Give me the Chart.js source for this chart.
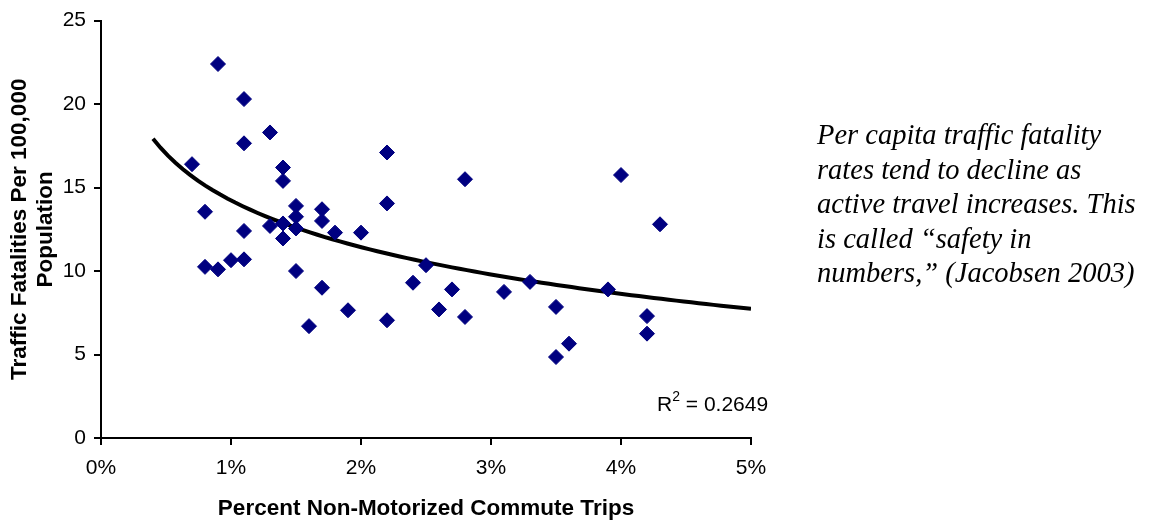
<!DOCTYPE html>
<html>
<head>
<meta charset="utf-8">
<script src="https://cdn.jsdelivr.net/npm/chart.js@4/dist/chart.umd.min.js"></script>
<style>
  html, body { margin: 0; padding: 0; background: #fff; }
  #wrap { width: 1154px; height: 523px; }
</style>
</head>
<body>
<div id="wrap"><canvas id="scatter" width="1154" height="523"></canvas></div>
<script>
// percent of commute trips by walking/cycling, one entry per city
const pctTrips = [0.9, 1.1, 1.1, 1.3, 0.7, 1.4, 1.4, 2.2, 2.8, 4.0, 4.3, 0.8, 1.5, 1.5, 1.7, 1.7,
    2.2, 1.3, 1.4, 1.5, 1.4, 1.1, 1.8, 2.0, 0.8, 0.9, 1.0, 1.1, 1.5, 1.7, 1.6, 1.9,
    2.2, 2.5, 2.4, 2.6, 2.7, 2.8, 3.1, 3.3, 3.5, 3.5, 3.6, 3.9, 4.2, 4.2];
// traffic fatalities per 100,000 population
const fatalities = [22.4, 20.3, 17.65, 18.3, 16.4, 16.2, 15.4, 17.1, 15.5, 15.75, 12.8, 13.55, 13.9, 13.25, 13.7, 13.0,
    14.05, 12.7, 12.85, 12.55, 11.95, 12.4, 12.3, 12.3, 10.25, 10.1, 10.65, 10.7, 10.0, 9.0, 6.7, 7.65,
    7.05, 10.35, 9.3, 7.7, 8.9, 7.25, 8.75, 9.35, 7.85, 4.85, 5.65, 8.9, 7.3, 6.25];
const xTicks = [0, 1, 2, 3, 4, 5];
const yTicks = [0, 5, 10, 15, 20, 25];
const trendRange = [0.4, 5];
const r2Label = "0.2649";
const noteLines = [
    "Per capita traffic fatality",
    "rates tend to decline as",
    "active travel increases. This",
    "is called \u201csafety in",
    "numbers,\u201d (Jacobsen 2003)"
];

// logarithmic least squares fit y = a*ln(x) + b, like the spreadsheet trendline
function logFit(xs, ys) {
    let n = xs.length, sx = 0, sy = 0, sxx = 0, sxy = 0;
    for (let i = 0; i < n; i++) {
        const lx = Math.log(xs[i]);
        sx += lx; sy += ys[i]; sxx += lx * lx; sxy += lx * ys[i];
    }
    const a = (n * sxy - sx * sy) / (n * sxx - sx * sx);
    const b = (sy - a * sx) / n;
    return {a: a, b: b};
}

const fit = logFit(pctTrips, fatalities);
const trendPts = [];
for (let i = 0; i <= 80; i++) {
    const x = trendRange[0] + (trendRange[1] - trendRange[0]) * i / 80;
    trendPts.push({x: x, y: fit.a * Math.log(x) + fit.b});
}

const points = pctTrips.map((x, i) => ({x: x, y: fatalities[i]}));

const sans = '"Liberation Sans", Arial, sans-serif';

const notePlugin = {
    id: 'notes',
    afterDraw(chart) {
        const ctx = chart.ctx;
        ctx.save();
        ctx.fillStyle = '#000';
        ctx.font = 'italic 28.5px "Liberation Serif", "Times New Roman", serif';
        ctx.textBaseline = 'middle';
        ctx.textAlign = 'left';
        noteLines.forEach((line, i) => {
            ctx.fillText(line, 817, 137 + i * 34.5);
        });
        // R squared label
        ctx.textBaseline = 'alphabetic';
        ctx.font = '21px ' + sans;
        let x = 657;
        ctx.fillText('R', x, 411);
        x += ctx.measureText('R').width;
        ctx.font = '14px ' + sans;
        ctx.fillText('2', x, 401);
        x += ctx.measureText('2').width;
        ctx.font = '21px ' + sans;
        ctx.fillText(' = ' + r2Label, x, 411);
        ctx.restore();
    }
};

new Chart(document.getElementById('scatter'), {
    type: 'scatter',
    data: {
        datasets: [{
            label: 'Cities',
            data: points,
            pointStyle: 'rectRot',
            pointRadius: 7.5,
            pointHoverRadius: 7.5,
            backgroundColor: '#000080',
            borderColor: '#000080',
            borderWidth: 1
        }, {
            type: 'line',
            label: 'Log trend',
            data: trendPts,
            borderColor: '#000',
            borderWidth: 4,
            pointRadius: 0,
            fill: false
        }]
    },
    options: {
        responsive: false,
        animation: false,
        events: [],
        layout: {padding: {left: 0, right: 403, top: 16, bottom: 0}},
        plugins: {legend: {display: false}, tooltip: {enabled: false}},
        scales: {
            x: {
                type: 'linear',
                min: 0, max: 5,
                afterBuildTicks: (s) => { s.ticks = xTicks.map(v => ({value: v})); },
                afterFit: (s) => { s.height = 85; },
                ticks: {
                    color: '#000',
                    padding: 11,
                    font: {family: sans, size: 21},
                    callback: (v) => v + '%'
                },
                grid: {drawOnChartArea: false, drawTicks: true, tickLength: 7, color: '#000', lineWidth: 2},
                border: {color: '#000', width: 2},
                title: {
                    display: true,
                    text: 'Percent Non-Motorized Commute Trips',
                    color: '#000',
                    font: {family: sans, size: 22.5, weight: 'bold', lineHeight: 1.2},
                    padding: {top: 0, bottom: 1}
                }
            },
            y: {
                min: 0, max: 25,
                afterBuildTicks: (s) => { s.ticks = yTicks.map(v => ({value: v})); },
                afterFit: (s) => { s.width = 101; },
                ticks: {
                    color: '#000',
                    padding: 8,
                    font: {family: sans, size: 21}
                },
                grid: {drawOnChartArea: false, drawTicks: true, tickLength: 7, color: '#000', lineWidth: 2},
                border: {color: '#000', width: 2},
                title: {
                    display: true,
                    text: ['Traffic Fatalities Per 100,000', 'Population'],
                    color: '#000',
                    font: {family: sans, size: 22.5, weight: 'bold', lineHeight: 1.15},
                    padding: {top: 7, bottom: 0}
                }
            }
        }
    },
    plugins: [notePlugin]
});
</script>
</body>
</html>
